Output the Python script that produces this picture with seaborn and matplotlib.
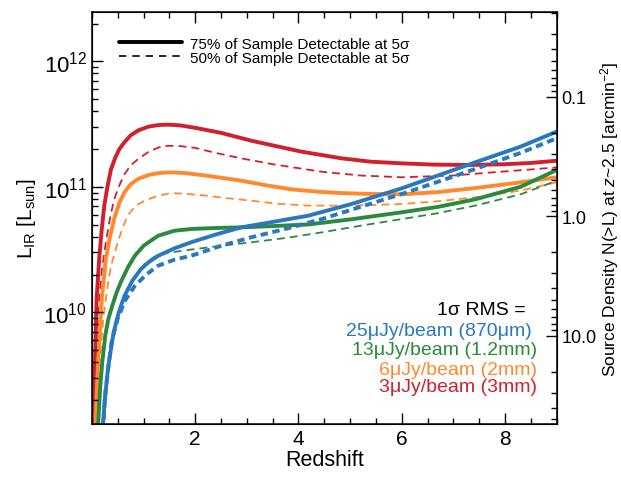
import matplotlib
matplotlib.use("Agg")
import matplotlib.pyplot as plt
import seaborn as sns
import numpy as np
from matplotlib.lines import Line2D
from matplotlib.ticker import FixedLocator, FormatStrFormatter, MultipleLocator

# --- data (redshift, log10 L_IR [L_sun]) ---
red_z_75 = [0.03, 0.06, 0.09, 0.14, 0.19, 0.24, 0.3, 0.37, 0.45, 0.53, 0.63, 0.75, 0.9, 1.1, 1.3, 1.47,
            1.7, 2.0, 2.5, 3.09, 3.5, 4.06, 4.83, 5.4, 6.0, 6.6, 7.3, 8.0, 8.5, 9.0]
red_L_75 = [9.05, 9.6, 10.1, 10.42, 10.66, 10.85, 11.0, 11.14, 11.23, 11.30, 11.355, 11.41, 11.45, 11.48, 11.493, 11.495,
            11.49, 11.47, 11.43, 11.367, 11.33, 11.28, 11.227, 11.2, 11.187, 11.177, 11.174, 11.18, 11.19, 11.208]
red_z_50 = [0.05, 0.08, 0.12, 0.19, 0.27, 0.35, 0.43, 0.53, 0.63, 0.75, 0.89, 1.1, 1.3, 1.47, 1.7,
            2.0, 2.4, 2.89, 3.5, 4.45, 5.2, 6.0, 7.0, 7.75, 8.4, 9.0]
red_L_50 = [9.05, 9.6, 10.0, 10.33, 10.56, 10.75, 10.90, 11.01, 11.10, 11.17, 11.22, 11.28, 11.315, 11.327, 11.325,
            11.31, 11.27, 11.227, 11.18, 11.12, 11.09, 11.076, 11.09, 11.115, 11.135, 11.155]

orange_z_75 = [0.06, 0.12, 0.19, 0.27, 0.35, 0.43, 0.53, 0.63, 0.75, 0.89, 1.1, 1.3, 1.53, 1.8, 2.2,
               2.89, 3.4, 3.86, 4.4, 4.83, 5.4, 6.0, 6.7, 7.42, 8.2, 9.0]
orange_L_75 = [9.05, 9.6, 10.1, 10.425, 10.6, 10.743, 10.87, 10.956, 11.02, 11.062, 11.095, 11.11, 11.115, 11.11, 11.09,
               11.049, 11.01, 10.98, 10.96, 10.95, 10.943, 10.94, 10.958, 10.99, 11.03, 11.076]
orange_z_50 = [0.08, 0.15, 0.22, 0.3, 0.37, 0.5, 0.6, 0.69, 0.85, 1.02, 1.25, 1.53, 1.8, 2.2, 2.6,
               3.09, 3.6, 4.19, 5.0, 6.0, 6.7, 7.42, 8.3, 9.0]
orange_L_50 = [9.05, 9.6, 9.95, 10.2, 10.37, 10.558, 10.68, 10.77, 10.85, 10.889, 10.925, 10.95, 10.945, 10.93, 10.91,
               10.889, 10.865, 10.85, 10.85, 10.863, 10.885, 10.916, 10.97, 11.036]

green_z_75 = [0.12, 0.16, 0.2, 0.26, 0.32, 0.4, 0.48, 0.57, 0.7, 0.83, 1.0, 1.28, 1.6, 1.92, 2.4,
              2.89, 3.5, 4.19, 5.0, 6.0, 6.7, 7.42, 8.3, 9.0]
green_L_75 = [9.1, 9.4, 9.6, 9.82, 9.95, 10.06, 10.16, 10.25, 10.36, 10.45, 10.53, 10.61, 10.65, 10.664, 10.672,
              10.677, 10.687, 10.70, 10.74, 10.797, 10.84, 10.90, 11.0, 11.134]
green_z_50 = [0.2, 0.32, 0.42, 0.52, 0.63, 0.8, 1.02, 1.2, 1.4, 1.92, 2.5, 3.09, 3.8, 4.45, 5.2,
              6.0, 6.7, 7.42, 8.3, 9.0]
green_L_50 = [9.05, 9.58, 9.84, 10.0, 10.13, 10.27, 10.385, 10.44, 10.47, 10.50, 10.53, 10.558, 10.595, 10.637, 10.69,
              10.743, 10.79, 10.85, 10.94, 11.049]

blue_z_75 = [0.2, 0.26, 0.32, 0.42, 0.52, 0.63, 0.78, 0.95, 1.1, 1.28, 1.6, 1.92, 2.4, 2.89, 3.5,
             4.19, 5.0, 6.0, 6.7, 7.42, 8.3, 9.0]
blue_L_75 = [9.05, 9.35, 9.58, 9.84, 10.0, 10.13, 10.25, 10.345, 10.40, 10.45, 10.51, 10.558, 10.62, 10.677, 10.72,
             10.77, 10.86, 10.988, 11.09, 11.195, 11.32, 11.44]
blue_z_50 = [0.22, 0.25, 0.3, 0.38, 0.5, 0.65, 0.83, 1.05, 1.28, 1.6, 1.92, 2.5, 3.09, 3.8, 4.45,
             5.2, 6.0, 6.7, 7.42, 8.3, 9.0]
blue_L_50 = [9.05, 9.31, 9.5, 9.76, 9.95, 10.1, 10.21, 10.30, 10.371, 10.42, 10.45, 10.53, 10.598, 10.67, 10.743,
             10.84, 10.943, 11.04, 11.142, 11.27, 11.387]

band_labels = ["25\u03bcJy/beam (870\u03bcm)", "13\u03bcJy/beam (1.2mm)",
               "6\u03bcJy/beam (2mm)", "3\u03bcJy/beam (3mm)"]
colors = ["#2a78bf", "#2b8a3e", "#ff8a2e", "#d1202c"]

sns.set_style("ticks")
plt.rcParams["font.family"] = ["Liberation Sans", "DejaVu Sans"]
plt.rcParams["mathtext.fontset"] = "custom"
plt.rcParams["mathtext.rm"] = "Liberation Sans"
plt.rcParams["mathtext.it"] = "Liberation Sans:italic"
for k in ["axes.edgecolor", "xtick.color", "ytick.color", "text.color", "axes.labelcolor"]:
    plt.rcParams[k] = "black"

fig = plt.figure(figsize=(6.21, 4.81), dpi=100)
ax = fig.add_axes([0.148, 0.1164, 0.7485, 0.8566])

thin_dash = (0, (4.4, 2.8))
thick_dash = (0, (1.9, 1.2))

series = [
    (red_z_50, red_L_50, colors[3], 1.3, thin_dash),
    (orange_z_50, orange_L_50, colors[2], 1.3, thin_dash),
    (green_z_50, green_L_50, colors[1], 1.3, thin_dash),
    (red_z_75, red_L_75, colors[3], 2.8, "-"),
    (orange_z_75, orange_L_75, colors[2], 2.8, "-"),
    (green_z_75, green_L_75, colors[1], 2.8, "-"),
    (blue_z_75, blue_L_75, colors[0], 2.8, "-"),
    (blue_z_50, blue_L_50, colors[0], 2.8, thick_dash),
]
for z, logL, c, lw, ls in series:
    sns.lineplot(x=np.array(z), y=10 ** np.array(logL), ax=ax, color=c,
                 linewidth=lw, linestyle=ls, sort=False, estimator=None)

ax.set_axisbelow(False)
ax.set_yscale("log")
ax.set_xlim(0, 9)
ax.set_ylim(10 ** 9.11, 10 ** 12.393)
ax.xaxis.set_major_locator(FixedLocator([2, 4, 6, 8]))
ax.xaxis.set_minor_locator(MultipleLocator(0.5))
ax.tick_params(which="both", direction="in", top=True, right=False, width=1, color="black")
ax.tick_params(which="major", length=8)
ax.tick_params(which="minor", length=4.5)
ax.tick_params(axis="x", labelsize=15)
ax.tick_params(axis="y", labelsize=16)
ax.set_xlabel("Redshift", fontsize=15.5, labelpad=1)
ax.set_ylabel("L$_{\\mathrm{IR}}$ [L$_{\\mathrm{sun}}$]", fontsize=15, labelpad=4)
for s in ax.spines.values():
    s.set_linewidth(1.1)

# right axis: source density
ax2 = ax.twinx()
ax2.set_yscale("log")
ax2.set_ylim(10 ** 1.739, 10 ** -1.709)
ax2.yaxis.set_major_locator(FixedLocator([0.1, 1.0, 10.0]))
ax2.yaxis.set_major_formatter(FormatStrFormatter("%.1f"))
ax2.tick_params(which="both", direction="in", labelsize=13, width=1, color="black")
ax2.tick_params(which="major", length=8)
ax2.tick_params(which="minor", length=4.5)
ax2.set_ylabel("Source Density N(>L) at $z$~2.5 [arcmin$^{-2}$]", fontsize=12.5, labelpad=1)

handles = [Line2D([], [], color="black", lw=2.8),
           Line2D([], [], color="black", lw=1.2, linestyle=(0, (4.4, 3.6)))]
ax.legend(handles, ["75% of Sample Detectable at 5\u03c3", "50% of Sample Detectable at 5\u03c3"],
          loc="upper left", bbox_to_anchor=(0.045, 0.955), frameon=False, fontsize=11,
          handlelength=4.1, handletextpad=0.55, labelspacing=0.0, borderaxespad=0)

ax.text(0.934, 0.277, "1\u03c3 RMS =", transform=ax.transAxes, ha="right", va="center", fontsize=14)
text_pos = [(0.947, 0.2265), (0.958, 0.182), (0.958, 0.1335), (0.958, 0.09)]
for (tx, ty), lab, c in zip(text_pos, band_labels, colors):
    ax.text(tx, ty, lab, transform=ax.transAxes, ha="right", va="center", fontsize=14, color=c)

fig.savefig("out.png", dpi=100)
